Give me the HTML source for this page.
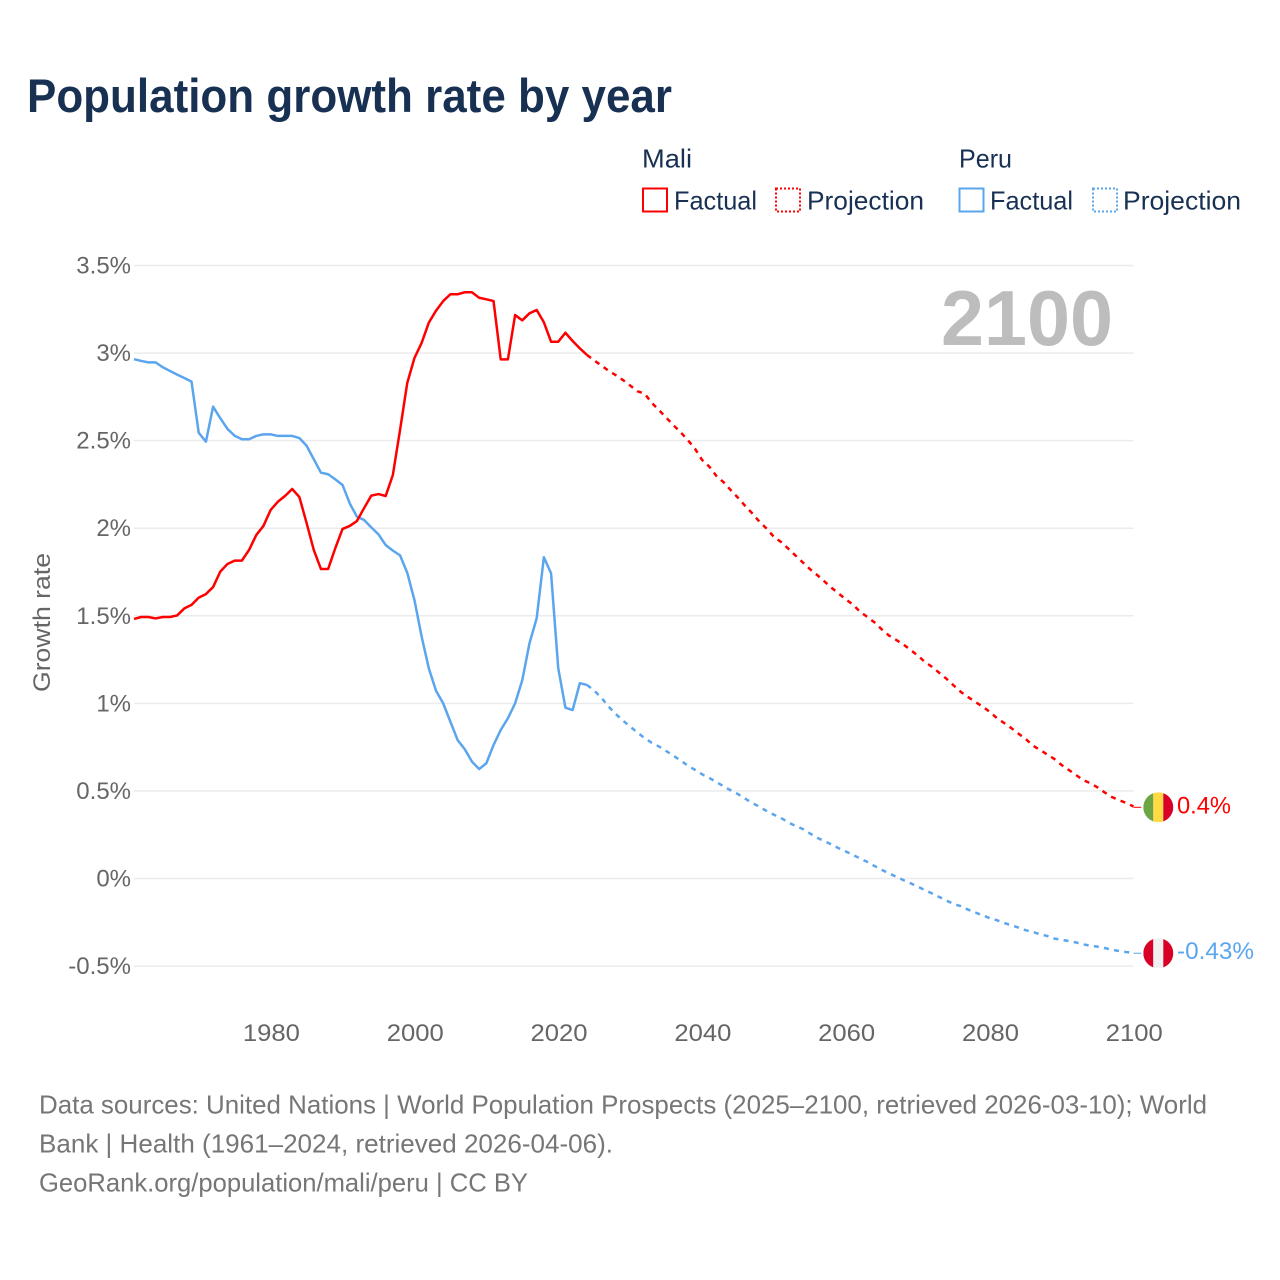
<!DOCTYPE html>
<html lang="en">
<head>
<meta charset="utf-8">
<title>Population growth rate by year</title>
<style>
html,body{margin:0;padding:0;background:#fff;}
svg{display:block;font-family:"Liberation Sans",sans-serif;}
</style>
</head>
<body>
<svg id="chart" xmlns="http://www.w3.org/2000/svg" width="1280" height="1280" viewBox="0 0 1280 1280">
  <rect width="1280" height="1280" fill="#ffffff"/>
  <text x="27" y="112" font-size="47" font-weight="700" fill="#183153" textLength="645" lengthAdjust="spacingAndGlyphs">Population growth rate by year</text>

  <g font-size="26" fill="#183153">
    <text x="642" y="167.5" textLength="50" lengthAdjust="spacingAndGlyphs">Mali</text>
    <text x="959" y="167.5" textLength="53" lengthAdjust="spacingAndGlyphs">Peru</text>
    <rect x="643" y="188.5" width="24" height="23" fill="none" stroke="#ff0000" stroke-width="2"/>
    <text x="674" y="209.5" textLength="83" lengthAdjust="spacingAndGlyphs">Factual</text>
    <rect x="776" y="188.5" width="24" height="23" fill="none" stroke="#ff0000" stroke-width="2" stroke-dasharray="2 2"/>
    <text x="807" y="209.5" textLength="117" lengthAdjust="spacingAndGlyphs">Projection</text>
    <rect x="959.5" y="188.5" width="24" height="23" fill="none" stroke="#5ba5ee" stroke-width="2"/>
    <text x="990" y="209.5" textLength="83" lengthAdjust="spacingAndGlyphs">Factual</text>
    <rect x="1093" y="188.5" width="24" height="23" fill="none" stroke="#5ba5ee" stroke-width="2" stroke-dasharray="2 2"/>
    <text x="1123" y="209.5" textLength="118" lengthAdjust="spacingAndGlyphs">Projection</text>
  </g>

  <g id="grid"></g>
  <g id="yaxis"></g>
  <g id="xaxis"></g>
  <text transform="translate(50,622.5) rotate(-90)" text-anchor="middle" font-size="24" fill="#666666" textLength="139" lengthAdjust="spacingAndGlyphs">Growth rate</text>
  <text x="941" y="345" font-size="78" font-weight="700" fill="#bdbdbd" textLength="172" lengthAdjust="spacingAndGlyphs">2100</text>
  <g id="series"></g>
  <g id="endmarks"></g>

  <g font-size="26" fill="#767676">
    <text x="39" y="1113.5" textLength="1168" lengthAdjust="spacingAndGlyphs">Data sources: United Nations | World Population Prospects (2025–2100, retrieved 2026-03-10); World</text>
    <text x="39" y="1152.5" textLength="574" lengthAdjust="spacingAndGlyphs">Bank | Health (1961–2024, retrieved 2026-04-06).</text>
    <text x="39" y="1191.5" textLength="489" lengthAdjust="spacingAndGlyphs">GeoRank.org/population/mali/peru | CC BY</text>
  </g>
</svg>
<script>
const factualYears = [1961,1962,1963,1964,1965,1966,1967,1968,1969,1970,1971,1972,1973,1974,1975,1976,1977,1978,1979,1980,1981,1982,1983,1984,1985,1986,1987,1988,1989,1990,1991,1992,1993,1994,1995,1996,1997,1998,1999,2000,2001,2002,2003,2004,2005,2006,2007,2008,2009,2010,2011,2012,2013,2014,2015,2016,2017,2018,2019,2020,2021,2022,2023,2024];
const maliFactual = [1.482,1.493,1.493,1.485,1.493,1.493,1.502,1.542,1.562,1.604,1.624,1.664,1.752,1.796,1.815,1.815,1.876,1.961,2.013,2.104,2.151,2.184,2.224,2.178,2.030,1.876,1.767,1.767,1.887,1.996,2.013,2.041,2.115,2.186,2.195,2.184,2.304,2.561,2.829,2.972,3.058,3.174,3.242,3.297,3.336,3.336,3.347,3.347,3.316,3.307,3.297,2.964,2.964,3.217,3.187,3.227,3.246,3.176,3.065,3.065,3.116,3.069,3.027,2.989];
const peruFactual = [2.965,2.955,2.947,2.947,2.919,2.898,2.877,2.858,2.837,2.545,2.494,2.694,2.628,2.567,2.528,2.508,2.508,2.527,2.536,2.536,2.527,2.527,2.527,2.515,2.471,2.394,2.317,2.308,2.279,2.247,2.142,2.066,2.047,2.005,1.965,1.904,1.872,1.845,1.746,1.590,1.381,1.200,1.072,1.000,0.895,0.791,0.738,0.667,0.625,0.658,0.762,0.848,0.915,1.000,1.133,1.343,1.486,1.834,1.743,1.200,0.975,0.962,1.115,1.105];
const projectionYears = [2024,2025,2026,2027,2028,2029,2030,2031,2032,2033,2034,2035,2036,2037,2038,2039,2040,2041,2042,2043,2044,2045,2046,2047,2048,2049,2050,2051,2052,2053,2054,2055,2056,2057,2058,2059,2060,2061,2062,2063,2064,2065,2066,2067,2068,2069,2070,2071,2072,2073,2074,2075,2076,2077,2078,2079,2080,2081,2082,2083,2084,2085,2086,2087,2088,2089,2090,2091,2092,2093,2094,2095,2096,2097,2098,2099,2100];
const maliProjection = [2.989,2.958,2.929,2.899,2.874,2.846,2.815,2.782,2.769,2.716,2.675,2.632,2.589,2.549,2.504,2.455,2.390,2.352,2.298,2.262,2.217,2.174,2.127,2.084,2.036,1.997,1.950,1.921,1.883,1.844,1.805,1.767,1.733,1.697,1.660,1.627,1.594,1.563,1.522,1.493,1.462,1.422,1.387,1.362,1.336,1.305,1.273,1.236,1.208,1.174,1.140,1.102,1.065,1.036,1.008,0.982,0.952,0.916,0.888,0.859,0.827,0.797,0.759,0.734,0.708,0.682,0.648,0.620,0.591,0.562,0.544,0.520,0.491,0.465,0.447,0.431,0.411];
const peruProjection = [1.105,1.073,1.032,0.982,0.939,0.902,0.867,0.834,0.802,0.775,0.754,0.728,0.702,0.674,0.645,0.621,0.595,0.574,0.551,0.526,0.503,0.482,0.456,0.431,0.409,0.385,0.364,0.345,0.320,0.300,0.283,0.257,0.233,0.214,0.194,0.173,0.154,0.134,0.114,0.094,0.071,0.049,0.029,0.010,-0.009,-0.027,-0.047,-0.066,-0.086,-0.106,-0.126,-0.146,-0.158,-0.178,-0.194,-0.210,-0.226,-0.238,-0.254,-0.267,-0.280,-0.295,-0.305,-0.319,-0.328,-0.343,-0.350,-0.357,-0.365,-0.376,-0.384,-0.389,-0.397,-0.407,-0.414,-0.420,-0.425];
const yTickValues = [3.5,3,2.5,2,1.5,1,0.5,0,-0.5];
const yTickLabels = ["3.5%","3%","2.5%","2%","1.5%","1%","0.5%","0%","-0.5%"];
const xTickValues = [1980,2000,2020,2040,2060,2080,2100];
const xTickLabels = ["1980","2000","2020","2040","2060","2080","2100"];
const maliEndLabel = "0.4%";
const peruEndLabel = "-0.43%";

const NS = "http://www.w3.org/2000/svg";
const RED = "#ff0000", BLUE = "#5ba5ee";
const plot = {left:134, right:1133.5, y0:878.5, pxPerUnit:175.14, startYear:1961, endYear:2100};
function xScale(year){ return plot.left + (year - plot.startYear) * (plot.right - plot.left) / (plot.endYear - plot.startYear); }
function yScale(v){ return plot.y0 - v * plot.pxPerUnit; }
function make(tag, attrs, parent, text){
  const el = document.createElementNS(NS, tag);
  for (const k in attrs) el.setAttribute(k, attrs[k]);
  if (text !== undefined) el.textContent = text;
  parent.appendChild(el);
  return el;
}
function linePath(years, values){
  return values.map((v,i)=>(i?"L":"M")+xScale(years[i]).toFixed(2)+" "+yScale(v).toFixed(2)).join(" ");
}

const grid = document.getElementById("grid");
const yaxis = document.getElementById("yaxis");
yTickValues.forEach((v,i)=>{
  const line = make("line",{x1:plot.left,x2:plot.right,y1:yScale(v),y2:yScale(v),stroke:"#ebebeb","stroke-width":1.5},grid);
  
  
  const label = make("text",{x:131,y:yScale(v)+8,"text-anchor":"end","font-size":24,fill:"#666666",textLength:yTickLabels[i].length*13.3,lengthAdjust:"spacingAndGlyphs"},yaxis,yTickLabels[i]);
  label.removeAttribute("textLength");
  label.removeAttribute("lengthAdjust");
  
  
});
const xaxis = document.getElementById("xaxis");
xTickValues.forEach((v,i)=>{
  const label = make("text",{x:xScale(v)+0.8,y:1041,"text-anchor":"middle","font-size":24,fill:"#666666",textLength:57,lengthAdjust:"spacingAndGlyphs"},xaxis,xTickLabels[i]);
  
  
});

const series = document.getElementById("series");
const peruFact = make("path",{d:linePath(factualYears,peruFactual),fill:"none",stroke:BLUE,"stroke-width":2.5,"stroke-linejoin":"round"},series);


const maliFact = make("path",{d:linePath(factualYears,maliFactual),fill:"none",stroke:RED,"stroke-width":2.5,"stroke-linejoin":"round"},series);


const peruProj = make("path",{d:linePath(projectionYears,peruProjection),fill:"none",stroke:BLUE,"stroke-width":2.5,"stroke-dasharray":"5 5.3"},series);


const maliProj = make("path",{d:linePath(projectionYears,maliProjection),fill:"none",stroke:RED,"stroke-width":2.5,"stroke-dasharray":"5 5.3"},series);



const marks = document.getElementById("endmarks");
const cx = 1158.3;
const maliEndValue = maliProjection[maliProjection.length-1];
const peruEndValue = peruProjection[peruProjection.length-1];
const maliY = yScale(maliEndValue) + 0.8;
const peruY = yScale(peruEndValue) + 0.3;

const defs = make("defs",{},marks);
make("circle",{id:"clip-mali-c",cx:cx,cy:maliY,r:15},make("clipPath",{id:"clip-mali"},defs));
make("circle",{id:"clip-peru-c",cx:cx,cy:peruY,r:15},make("clipPath",{id:"clip-peru"},defs));

const maliConn = make("line",{x1:plot.right,x2:cx-17,y1:maliY,y2:maliY,stroke:RED,"stroke-width":1},marks);


const peruConn = make("line",{x1:plot.right,x2:cx-17,y1:peruY,y2:peruY,stroke:BLUE,"stroke-width":1},marks);



const maliFlag = make("g",{"clip-path":"url(#clip-mali)"},marks);


make("rect",{x:cx-15,y:maliY-15,width:10,height:30,fill:"#6da544"},maliFlag);
make("rect",{x:cx-5,y:maliY-15,width:10,height:30,fill:"#ffda44"},maliFlag);
make("rect",{x:cx+5,y:maliY-15,width:10,height:30,fill:"#d80027"},maliFlag);

const peruFlag = make("g",{"clip-path":"url(#clip-peru)"},marks);


make("rect",{x:cx-15,y:peruY-15,width:10,height:30,fill:"#d80027"},peruFlag);
make("rect",{x:cx-5,y:peruY-15,width:10,height:30,fill:"#f0f0f0"},peruFlag);
make("rect",{x:cx+5,y:peruY-15,width:10,height:30,fill:"#d80027"},peruFlag);

const maliVal = make("text",{x:1177,y:maliY+6,"font-size":24,fill:RED,textLength:54,lengthAdjust:"spacingAndGlyphs"},marks,maliEndLabel);


const peruVal = make("text",{x:1177,y:peruY+6,"font-size":24,fill:BLUE,textLength:77,lengthAdjust:"spacingAndGlyphs"},marks,peruEndLabel);


</script>
</body>
</html>
